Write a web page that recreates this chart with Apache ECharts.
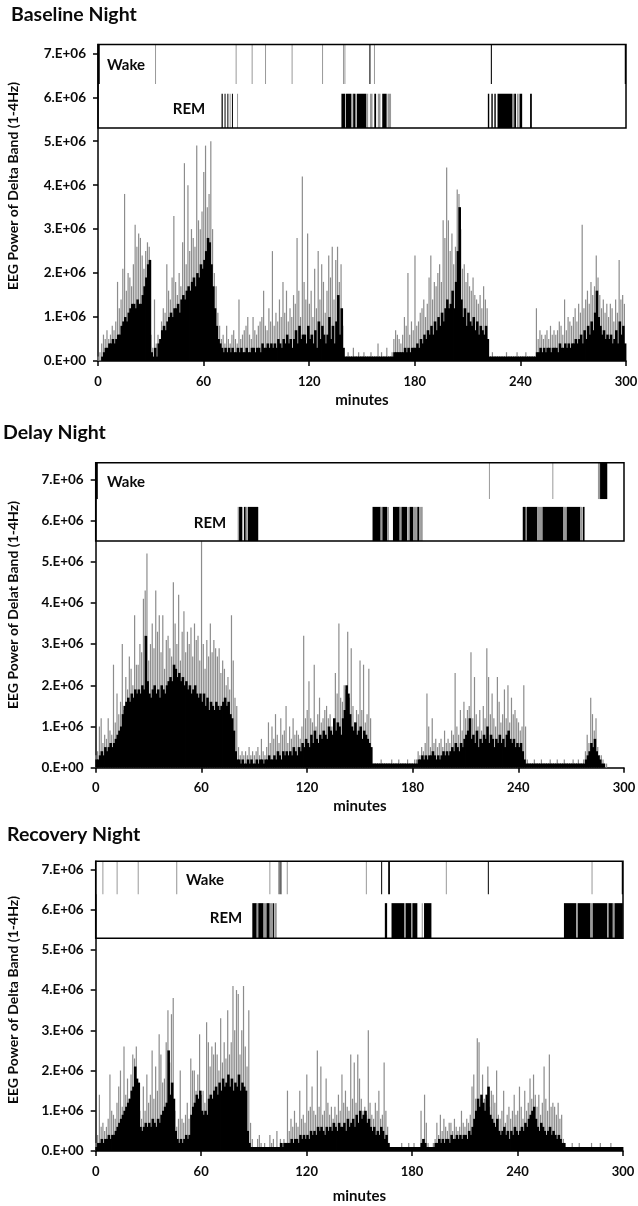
<!DOCTYPE html>
<html>
<head>
<meta charset="utf-8">
<script src="https://cdn.jsdelivr.net/npm/echarts@6.0.0/dist/echarts.min.js"></script>
<style>
  html, body { margin: 0; padding: 0; background: #fff; }
  #chart { width: 638px; height: 1206px; }
</style>
</head>
<body>
<div id="chart"></div>
<script>
// values are in units of 1E5, one per minute (0..299)
var UNIT = 1e5;
var titles = ['Baseline Night', 'Delay Night', 'Recovery Night'];
var yNames = ['EEG Power of Delta Band (1-4Hz)', 'EEG Power of Delat Band (1-4Hz)', 'EEG Power of Delta Band (1-4Hz)'];
var xTicks = [0, 60, 120, 180, 240, 300];
var yTicks = [0, 1e6, 2e6, 3e6, 4e6, 5e6, 6e6, 7e6];

var body1 = [
  0,0,1,2,3,3,4,4,5,4, 5,6,6,8,9,10,9,11,12,13, 13,12,14,13,13,15,17,19,22,23,
  2,1,3,1,4,5,7,8,7,9, 10,11,10,12,12,13,11,14,15,14, 16,17,16,18,19,17,20,19,22,21,
  23,25,28,27,22,17,12,8,5,4, 3,2,3,2,3,2,3,2,2,3, 2,3,2,2,3,2,2,3,3,2,
  3,3,2,4,3,3,4,3,4,3, 4,3,5,4,3,5,4,6,4,5, 3,5,7,4,8,5,6,6,4,8,
  5,6,4,7,3,9,5,8,6,4, 6,10,5,8,4,9,15,6,12,3, 1,1,1,1,1,1,1,1,1,1,
  1,1,1,1,1,1,1,1,1,1, 1,1,1,1,1,1,1,1,2,2, 2,2,2,2,3,2,3,2,3,3,
  3,4,3,5,4,6,5,7,6,8, 6,9,7,10,8,11,9,12,14,12, 13,16,12,18,25,35,14,10,12,8,
  11,9,8,10,7,9,6,8,7,6, 8,5,1,1,1,1,1,1,1,1, 1,1,1,1,1,1,1,1,1,1,
  1,1,1,1,1,1,1,1,1,2, 2,3,2,3,2,3,3,2,3,3, 3,2,4,3,3,4,3,4,3,4,
  4,5,4,5,6,4,7,5,8,6, 9,7,11,16,10,8,6,7,5,6, 5,6,4,5,7,4,9,6,8,4
];
var peak1 = [
  1,2,4,6,5,7,5,6,8,7, 9,18,12,14,21,38,16,20,19,17, 22,31,26,29,28,24,21,25,27,26,
  6,3,14,4,6,5,9,12,11,22, 16,14,19,33,18,15,20,17,27,45, 22,40,25,30,28,26,49,32,30,34,
  43,49,35,38,50,30,20,17,11,8, 5,6,4,8,5,4,6,7,5,4, 14,5,6,7,8,10,6,5,10,7,
  6,8,9,10,16,8,7,12,9,25, 8,11,9,14,10,18,11,16,9,12, 10,15,13,28,16,10,42,18,14,29,
  13,16,10,21,12,25,14,22,18,11, 16,24,19,26,14,23,26,18,22,8, 1,1,2,1,1,3,1,1,2,1,
  1,2,1,1,1,2,1,1,1,4, 1,2,1,1,3,1,1,2,5,7, 6,5,4,6,10,8,20,6,9,7,
  24,8,9,11,12,14,10,13,19,24, 14,18,17,20,22,18,32,28,44,32, 25,29,22,26,39,38,30,21,22,18,
  20,17,16,19,15,14,13,15,12,17, 14,12,1,1,2,1,1,1,1,1, 1,1,2,1,1,1,1,1,2,1,
  1,1,1,2,1,1,1,1,1,12, 5,7,6,5,6,7,5,8,6,7, 6,7,9,8,6,14,7,10,9,8,
  10,12,9,13,11,31,12,14,16,13, 18,15,17,24,19,15,12,14,11,13, 10,13,12,9,14,11,23,14,15,13
];
var body2 = [
  2,2,3,4,3,5,4,5,6,5, 6,7,8,9,10,13,15,16,17,16, 18,17,19,18,19,18,20,19,32,21,
  18,17,19,20,18,19,17,20,19,18, 20,21,22,21,25,24,22,23,21,22, 20,21,19,20,18,19,20,18,17,18,
  16,18,15,17,14,16,15,14,16,15, 14,15,16,17,15,16,13,12,9,4, 2,2,1,2,1,1,2,1,2,1,
  1,2,1,2,2,1,2,2,3,2, 2,3,2,4,3,2,4,3,4,3, 4,3,5,4,3,5,4,6,5,7,
  6,5,8,6,9,7,6,8,7,9, 8,7,10,9,8,12,9,11,10,8, 12,14,20,18,13,10,9,11,8,9,
  10,7,9,8,7,6,5,1,1,1, 1,1,1,1,1,1,1,1,1,1, 1,1,1,1,1,1,1,1,1,1,
  1,1,1,2,2,3,2,3,2,3, 3,4,3,2,3,2,3,4,3,4, 3,4,5,4,6,5,4,6,5,7,
  8,9,12,7,8,6,9,5,7,6, 8,7,10,6,8,7,5,7,6,8, 6,7,5,8,9,7,6,7,5,6,
  5,6,4,2,1,1,1,1,1,1, 1,1,1,1,1,1,1,1,1,1, 1,1,1,1,1,1,1,1,1,1,
  1,1,1,1,1,1,1,1,2,3, 4,6,5,7,4,3,2,1,1,0, 0,0,0,0,0,0,0,0,0,0
];
var peak2 = [
  3,4,10,12,6,8,7,12,9,8, 25,11,18,13,16,30,14,22,19,27, 24,20,37,25,25,30,28,41,43,52,
  26,30,35,29,43,33,37,28,37,24, 31,32,29,27,45,35,30,42,26,33, 38,28,33,30,34,27,35,31,32,26,
  55,30,24,31,27,35,28,31,29,27, 29,23,26,24,20,22,19,37,26,17, 15,5,3,4,3,4,3,5,3,4,
  3,4,5,3,7,4,3,5,11,6, 10,7,13,8,6,12,8,9,15,6, 10,7,12,8,9,8,7,10,32,12,
  14,21,12,11,25,10,13,17,11,12, 14,15,12,13,10,11,23,18,35,17, 16,20,19,33,17,29,15,11,14,13,
  26,14,25,11,13,24,12,1,1,1, 1,1,2,1,1,1,1,1,2,1, 1,1,2,1,1,1,1,2,1,1,
  1,2,2,4,3,5,4,6,18,10, 5,12,6,7,5,6,7,5,9,6, 7,6,9,8,23,10,8,14,9,16,
  12,14,15,28,12,22,13,10,14,9, 15,12,29,22,13,18,12,10,22,16, 11,13,19,12,20,11,17,13,14,12,
  11,9,10,20,10,2,1,1,1,2, 1,1,1,2,1,1,1,1,2,1, 1,1,2,1,1,1,2,1,1,1,
  1,2,1,1,2,1,1,2,4,8, 6,17,13,9,12,5,3,3,2,1, 1,0,0,0,0,0,0,0,0,0
];
var body3 = [
  1,2,2,3,2,3,3,4,3,4, 4,5,6,7,8,9,10,11,12,13, 15,16,21,18,17,6,5,6,7,6,
  7,6,8,7,6,8,7,9,10,11, 12,25,14,17,13,5,3,2,3,2, 3,4,3,4,9,11,12,14,13,15,
  10,9,10,9,13,14,13,15,16,14, 17,15,18,16,17,19,16,18,15,17, 16,19,15,17,16,15,5,2,1,1,
  1,1,1,1,1,1,1,1,1,1, 1,1,1,1,1,2,1,2,2,2, 2,3,2,3,3,2,4,3,4,3,
  4,3,5,4,5,4,6,5,6,5, 4,6,5,6,5,7,6,5,7,6, 6,7,5,8,6,7,8,6,9,7,
  10,8,9,10,7,8,6,5,6,4, 5,4,6,5,3,4,2,1,1,1, 1,1,1,1,1,1,1,1,1,1,
  1,1,1,1,1,2,3,2,1,1, 1,1,1,2,2,3,2,3,2,3, 3,2,4,3,3,4,3,4,3,4,
  4,3,5,4,6,8,10,13,11,14, 12,10,14,16,9,8,7,6,8,5, 4,5,6,4,5,3,5,4,6,5,
  4,5,6,5,7,6,8,9,10,11, 8,6,5,7,6,5,4,5,6,4, 5,4,3,4,3,2,2,1,1,1,
  1,1,1,1,1,1,1,1,1,1, 1,1,1,1,1,1,1,1,1,1, 1,1,1,1,1,1,1,1,1,1
];
var peak3 = [
  2,4,14,6,7,5,6,8,19,10, 9,8,12,16,20,11,26,14,18,13, 19,24,23,26,14,10,8,16,10,19,
  12,14,25,13,21,15,29,24,17,18, 27,35,22,34,38,10,6,8,20,8, 7,9,12,8,23,20,20,15,19,29,
  14,15,12,32,27,21,26,24,27,24, 20,33,22,27,23,35,24,27,41,30, 40,39,24,30,41,26,21,35,7,3,
  1,1,3,4,2,1,2,1,1,4, 2,3,1,5,1,3,2,3,2,15, 5,8,6,10,7,6,15,8,9,7,
  19,10,11,16,10,9,25,11,21,9, 10,18,12,9,11,8,11,9,14,10, 19,12,15,11,10,24,13,22,12,24,
  18,13,10,11,9,30,12,9,8,12, 10,15,8,9,22,10,6,2,1,1, 1,1,1,1,2,1,1,1,2,1,
  1,2,1,1,1,10,3,14,7,2, 1,1,2,3,7,4,9,5,8,6, 5,7,7,5,8,6,5,6,10,7,
  6,8,7,9,16,19,13,28,27,13, 19,13,12,21,11,15,14,12,20,9, 8,10,15,7,9,11,8,10,14,9,
  10,16,11,8,15,10,12,18,13,19, 14,11,14,9,12,21,13,10,24,11, 12,11,9,12,8,9,3,2,1,1,
  1,2,1,1,1,2,1,1,1,1, 1,1,2,1,1,1,1,2,1,1, 1,1,1,2,1,1,1,1,1,1
];

// [start minute, end minute, dark(1) / light(0)]
var wake1 = [[0,1,1],[32.4,32.4,0],[78.2,78.2,0],[87.3,87.3,0],[94.9,94.9,0],[110,110,0],[127.3,127.3,0],
  [139.2,139.2,0],[140,140,0],[154.2,154.8,1],[156.8,156.8,0],[223.2,223.8,1],[299.3,300,1]];
var rem1 = [[70.2,70.9,1],[71.9,72.4,1],[73.5,73.9,1],[74.8,75.2,0],[76.1,76.5,1],[79,79.3,0],
  [138.3,140.5,1],[140.9,144,1],[144.5,145,0],[145,146.3,1],[147,152.5,1],[152.8,153.5,0],[154.5,156,0],
  [157,158,1],[159,160.5,0],[161.5,164,1],[164.5,166.5,0],
  [221.5,222.3,1],[223.5,224.3,1],[225.2,226,1],[227,235.5,1],[235.8,236.5,0],[236.5,237.5,1],
  [238,239,0],[239.5,241,1],[245.5,246.5,1]];
var wake2 = [[0,1.2,1],[223.3,223.3,0],[259.3,259.3,0],[285.2,286.4,0],[286.4,290.5,1]];
var rem2 = [[80.6,81.4,0],[81.4,83.2,1],[83.2,83.8,0],[84.2,85.2,1],[85.2,86.2,0],[86.4,92.3,1],
  [157.2,161.8,1],[161.8,162.8,0],[162.8,165.5,1],[165.5,166.5,0],[168.8,172.6,1],[172.6,173.4,0],
  [173.6,176.8,1],[177,177.8,0],[178.2,180.4,1],[180.6,182.4,0],[182.6,183.8,1],[184.2,185.7,0],
  [242.5,244.2,1],[244.2,244.8,0],[244.8,250.8,1],[250.8,253.5,0],[253.7,265.6,1],[265.6,267.5,0],
  [267.5,275.2,1],[275.2,276.3,0],[276.6,277.6,1]];
var wake3 = [[0,0.3,0],[3.8,3.8,0],[11.9,11.9,0],[23.9,23.9,0],[45.8,46.4,0],[98.8,98.8,0],
  [103.8,104.4,0],[104.6,105.2,1],[105.4,106,0],[108.7,108.7,0],[153.7,153.7,0],[162.4,162.8,1],
  [166.4,167.4,1],[199.2,199.2,0],[223.1,223.5,1],[282.1,282.1,0],[299.3,300,1]];
var rem3 = [[89.1,91.6,1],[91.6,92.5,0],[92.5,95.5,1],[95.5,97.2,0],[97.2,99,1],[99,100.9,0],
  [100.9,101.6,1],[102,103,0],
  [164.5,165.8,1],[168.3,175.4,1],[175.4,176.4,0],[176.4,179.6,1],[179.6,180.2,0],[180.2,183,1],
  [185.5,186.1,0],[186.8,191,1],
  [266.4,273.4,1],[273.4,274.3,0],[274.3,281.5,1],[281.5,282.8,0],[282.8,291,1],[291,291.8,0],
  [291.8,294.2,1],[294.2,295.2,0],[295.2,299.9,1]];

var bodies = [body1, body2, body3];
var peaks = [peak1, peak2, peak3];
var wakes = [wake1, wake2, wake3];
var rems = [rem1, rem2, rem3];

// layout of the three panels (pixels and axis values)
var layout = [
  { left: 98, right: 12, top: 44.5, height: 316.5, yMax: 7.2e6, boxLo: 5.3e6, wakeLo: 6.3e6, remHi: 6.08e6,
    titleX: 11, titleY: 5, nameGap: 32, yNameY: 186, wakeXY: [126, 65], remXY: [189, 109] },
  { left: 95.7, right: 14, top: 462.8, height: 304.9, yMax: 7.4e6, boxLo: 5.5e6, wakeLo: 6.52e6, remHi: 6.33e6,
    titleX: 3, titleY: 423, nameGap: 31, yNameY: 605, wakeXY: [126, 482], remXY: [210, 523] },
  { left: 95.7, right: 15, top: 861.3, height: 289.7, yMax: 7.2e6, boxLo: 5.29e6, wakeLo: 6.38e6, remHi: 6.16e6,
    titleX: 7, titleY: 825, nameGap: 38, yNameY: 1000, wakeXY: [205, 880], remXY: [226, 918] }
];

var FONT = 'Lato';
var INK = '#0a0a0a';
var chart = echarts.init(document.getElementById('chart'));

function rasterItem(lo, hi) {
  return function (params, api) {
    var s = api.coord([api.value(0), hi]);
    var e = api.coord([api.value(1), lo]);
    var w = Math.max(e[0] - s[0], 1);
    return {
      type: 'rect',
      shape: { x: s[0], y: s[1], width: w, height: e[1] - s[1] },
      style: { fill: api.value(2) ? '#000' : '#999' }
    };
  };
}

function frameItem(lo, hi) {
  return function (params, api) {
    var s = api.coord([0, hi]);
    var e = api.coord([300, lo]);
    return {
      type: 'rect',
      shape: { x: s[0], y: s[1], width: e[0] - s[0], height: e[1] - s[1] },
      style: { fill: 'none', stroke: '#000', lineWidth: 1.5 }
    };
  };
}

var grids = [], xAxes = [], yAxes = [], series = [], titleList = [], graphics = [];

layout.forEach(function (L, k) {
  grids.push({ left: L.left, right: L.right, top: L.top, height: L.height, outerBoundsMode: 'none' });
  xAxes.push({
    type: 'value', gridIndex: k, min: 0, max: 300, interval: 60,
    name: 'minutes', nameLocation: 'middle', nameGap: L.nameGap,
    nameTextStyle: { fontFamily: FONT, fontWeight: 'bold', fontSize: 15, color: INK },
    axisLine: { lineStyle: { color: '#000', width: 1.5 } },
    axisTick: { length: 5, customValues: xTicks, lineStyle: { color: '#000', width: 1.5 } },
    axisLabel: { fontFamily: FONT, fontWeight: 'bold', fontSize: 13, color: INK, margin: 14, customValues: xTicks },
    splitLine: { show: false }
  });
  yAxes.push({
    type: 'value', gridIndex: k, min: 0, max: L.yMax, interval: 1e6,
    axisLine: { show: true, lineStyle: { color: '#000', width: 1.5 } },
    axisTick: { show: true, length: 5, customValues: yTicks, lineStyle: { color: '#000', width: 1.5 } },
    axisLabel: {
      fontFamily: FONT, fontWeight: 'bold', fontSize: 13.5, color: INK, margin: 12,
      customValues: yTicks,
      formatter: function (v) {
        if (v % 1e6 !== 0) return '';
        return v === 0 ? '0.E+00' : (v / 1e6) + '.E+06';
      }
    },
    splitLine: { show: false }
  });

  // grey spikes behind, solid black body in front
  series.push({
    type: 'bar', xAxisIndex: k, yAxisIndex: k, barWidth: 1.2, barGap: '-100%',
    itemStyle: { color: '#8c8c8c' }, silent: true,
    data: peaks[k].map(function (v, i) { return [i + 0.5, v * UNIT]; })
  });
  series.push({
    type: 'bar', xAxisIndex: k, yAxisIndex: k, barWidth: 2.6, barGap: '-100%',
    itemStyle: { color: '#000' }, silent: true,
    data: bodies[k].map(function (v, i) { return [i + 0.5, v * UNIT]; })
  });
  series.push({
    type: 'custom', xAxisIndex: k, yAxisIndex: k, silent: true,
    encode: { x: [0, 1], y: 2 },
    renderItem: rasterItem(L.wakeLo, L.yMax), data: wakes[k]
  });
  series.push({
    type: 'custom', xAxisIndex: k, yAxisIndex: k, silent: true,
    encode: { x: [0, 1], y: 2 },
    renderItem: rasterItem(L.boxLo, L.remHi), data: rems[k]
  });
  series.push({
    type: 'custom', xAxisIndex: k, yAxisIndex: k, silent: true, z: 5,
    encode: { x: 0, y: 1 },
    renderItem: frameItem(L.boxLo, L.yMax), data: [[0, 0]]
  });

  titleList.push({
    text: titles[k], left: L.titleX, top: L.titleY, padding: 0,
    textStyle: { fontFamily: FONT, fontWeight: 'bold', fontSize: 19.5, color: INK }
  });

  graphics.push({
    type: 'text', x: 13, y: L.yNameY, rotation: Math.PI / 2,
    style: { text: yNames[k], fontFamily: FONT, fontWeight: 'bold', fontSize: 14, fill: INK,
      align: 'center', verticalAlign: 'middle' }
  });
  graphics.push({
    type: 'text', x: L.wakeXY[0], y: L.wakeXY[1],
    style: { text: 'Wake', fontFamily: FONT, fontWeight: 'bold', fontSize: 15, fill: INK,
      align: 'center', verticalAlign: 'middle' }
  });
  graphics.push({
    type: 'text', x: L.remXY[0], y: L.remXY[1],
    style: { text: 'REM', fontFamily: FONT, fontWeight: 'bold', fontSize: 15, fill: INK,
      align: 'center', verticalAlign: 'middle' }
  });
});

var option = {
  animation: false,
  backgroundColor: '#fff',
  title: titleList,
  grid: grids,
  xAxis: xAxes,
  yAxis: yAxes,
  series: series,
  graphic: graphics
};
chart.setOption(option);
</script>
</body>
</html>
